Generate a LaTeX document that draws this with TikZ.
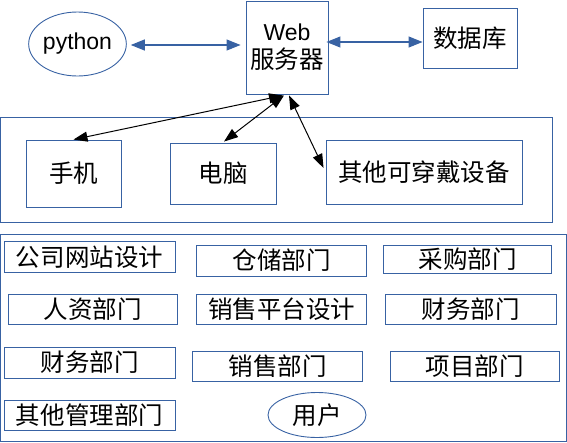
\documentclass[tikz,border=0pt]{standalone}
\usepackage{fontspec}
\setmainfont{Liberation Sans}
\newfontfamily\cjk{Noto Sans CJK SC}
\usetikzlibrary{shapes.geometric,arrows.meta}
\definecolor{bl}{RGB}{56,98,163}
\tikzset{
  box/.style={draw=bl,line width=0.9pt,rectangle,inner sep=0pt,align=center,font=\fontsize{24.5}{27}\selectfont\cjk},
  oval/.style={draw=bl,line width=0.9pt,ellipse,inner sep=0pt,align=center,font=\fontsize{23}{27}\selectfont},
  grp/.style={draw=bl,line width=0.9pt,rectangle,inner sep=0pt},
  barrow/.style={draw=bl,line width=1.1pt,{Triangle[length=14pt,width=11pt]}-{Triangle[length=14pt,width=11pt]}},
  karrow/.style={draw=black,line width=1pt,{Triangle[length=14pt,width=10pt]}-{Triangle[length=14pt,width=10pt]}}
}
\begin{document}
\begin{tikzpicture}[x=1pt,y=-1pt]
\useasboundingbox (0,0) rectangle (567,442);
% top
\node[oval,minimum width=95pt,minimum height=64pt] (py) at (77.5,44) {python};
\node[box,minimum width=82pt,minimum height=93pt,font=\fontsize{23}{28}\selectfont] (web) at (287,47.5) {Web\\{\fontsize{24.5}{28}\selectfont\cjk 服务器}};
\node[box,minimum width=94pt,minimum height=60pt] (db) at (470,38) {数据库};
\draw[barrow,shorten <=4pt,shorten >=5pt] (py.east|-0,45) coordinate (pa) -- (web.west|-0,45) coordinate (pb);
\draw[barrow] ([xshift=-2pt]web.east|-0,42) -- (db.west|-0,42);
% group 1
\node[grp,minimum width=551.5pt,minimum height=105pt] (g1) at (276.25,169.5) {};
\node[box,minimum width=95pt,minimum height=67pt] (phone) at (73.5,173.5) {手机};
\node[box,minimum width=106pt,minimum height=61pt] (pc) at (223,173.5) {电脑};
\node[box,minimum width=196pt,minimum height=64pt] (wear) at (424,172) {其他可穿戴设备};
\coordinate (w1) at ([xshift=-4pt,yshift=-1pt]web.south);
\coordinate (w2) at ([xshift=-3pt,yshift=-1pt]web.south);
\coordinate (w3) at ([xshift=2pt,yshift=-1pt]web.south);
\coordinate (we) at ([xshift=-2pt,yshift=4pt]wear.west);
\draw[karrow] (phone.north) -- (w1);
\draw[karrow] ([xshift=1pt,yshift=1pt]pc.north) -- (w2);
\draw[karrow] (we) -- (w3);
% group 2
\node[grp,minimum width=565.5pt,minimum height=207pt] (g2) at (283.25,337.5) {};
\node[box,minimum width=171pt,minimum height=31pt] (b1) at (89.5,257) {公司网站设计};
\node[box,minimum width=170pt,minimum height=31pt] (b2) at (281.5,260.5) {仓储部门};
\node[box,minimum width=168pt,minimum height=28pt] (b3) at (467.5,259) {采购部门};
\node[box,minimum width=169pt,minimum height=30pt] (b4) at (92.5,309) {人资部门};
\node[box,minimum width=170pt,minimum height=30pt] (b5) at (281.5,309) {销售平台设计};
\node[box,minimum width=171pt,minimum height=30pt] (b6) at (470.5,309) {财务部门};
\node[box,minimum width=171pt,minimum height=31pt] (b7) at (89.5,362.5) {财务部门};
\node[box,minimum width=170pt,minimum height=30pt] (b8) at (277.5,366) {销售部门};
\node[box,minimum width=169pt,minimum height=30pt] (b9) at (474.5,366) {项目部门};
\node[box,minimum width=171pt,minimum height=30pt] (b10) at (89.5,415) {其他管理部门};
\node[oval,minimum width=98pt,minimum height=45pt,font=\fontsize{24.5}{27}\selectfont\cjk] (user) at (317,415) {用户};
\end{tikzpicture}
\end{document}
